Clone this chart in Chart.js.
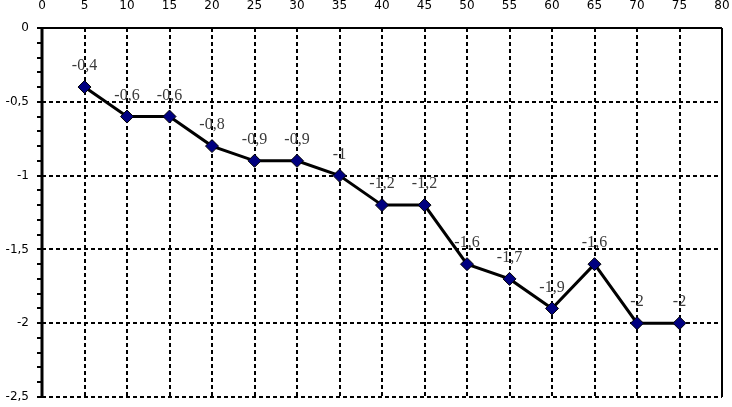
<!DOCTYPE html>
<html>
<head>
<meta charset="utf-8">
<script src="https://cdn.jsdelivr.net/npm/chart.js@4/dist/chart.umd.min.js"></script>
<style>
    html, body { margin: 0; padding: 0; background: #fff; }
    #wrap { width: 732px; height: 407px; }
</style>
</head>
<body>
<div id="wrap"><canvas id="chart"></canvas></div>
<script>
// Données
const xValues = [5, 10, 15, 20, 25, 30, 35, 40, 45, 50, 55, 60, 65, 70, 75];
const yValues = [-0.4, -0.6, -0.6, -0.8, -0.9, -0.9, -1, -1.2, -1.2, -1.6, -1.7, -1.9, -1.6, -2, -2];
const xTicks = [0, 5, 10, 15, 20, 25, 30, 35, 40, 45, 50, 55, 60, 65, 70, 75, 80];
const yMajorTicks = [0, -0.5, -1, -1.5, -2, -2.5];

function formatComma(v) {
    return String(v).replace('.', ',');
}

function isMajor(v) {
    return yMajorTicks.some(function(t) { return Math.abs(t - v) < 1e-6; });
}

// Fond blanc + cadre (gauche, haut, droite) + étiquettes de valeurs
const framePlugin = {
    id: 'frame',
    beforeDraw: function(chart) {
        const ctx = chart.ctx;
        ctx.save();
        ctx.fillStyle = '#fff';
        ctx.fillRect(0, 0, chart.width, chart.height);
        ctx.restore();
    },
    afterDraw: function(chart) {
        const ctx = chart.ctx;
        const area = chart.chartArea;
        ctx.save();
        ctx.strokeStyle = '#000';
        ctx.setLineDash([]);
        ctx.lineWidth = 2;
        ctx.beginPath();
        ctx.moveTo(area.left, area.top);
        ctx.lineTo(area.right, area.top);
        ctx.moveTo(area.right, area.top);
        ctx.lineTo(area.right, area.bottom);
        ctx.stroke();
        ctx.lineWidth = 3;
        ctx.beginPath();
        ctx.moveTo(area.left, area.top - 1);
        ctx.lineTo(area.left, area.bottom);
        ctx.stroke();

        const meta = chart.getDatasetMeta(0);
        ctx.font = '16px "Liberation Serif", "Times New Roman", serif';
        ctx.fillStyle = '#3a3a3a';
        ctx.textAlign = 'center';
        ctx.textBaseline = 'middle';
        meta.data.forEach(function(pt, i) {
            ctx.fillText(formatComma(yValues[i]), pt.x, pt.y - 21);
        });
        ctx.restore();
    }
};

const points = xValues.map(function(x, i) { return { x: x, y: yValues[i] }; });

new Chart(document.getElementById('chart'), {
    type: 'scatter',
    data: {
        datasets: [{
            data: points,
            showLine: true,
            borderColor: '#000',
            borderWidth: 3,
            pointStyle: 'rectRot',
            pointRadius: 6.5,
            pointHoverRadius: 6.5,
            pointBackgroundColor: '#000080',
            pointBorderColor: '#000',
            pointBorderWidth: 1
        }]
    },
    options: {
        responsive: true,
        maintainAspectRatio: false,
        animation: false,
        events: [],
        layout: { padding: { left: 0, right: 10, top: 0, bottom: 10 } },
        plugins: {
            legend: { display: false },
            tooltip: { enabled: false }
        },
        scales: {
            x: {
                type: 'linear',
                position: 'top',
                min: 0,
                max: 80,
                afterBuildTicks: function(scale) {
                    scale.ticks = xTicks.map(function(v) { return { value: v }; });
                },
                afterFit: function(scale) {
                    scale.height = 28;
                    scale.paddingLeft = 0;
                    scale.paddingRight = 0;
                },
                ticks: {
                    color: '#000',
                    padding: 15,
                    maxRotation: 0,
                    font: { family: '"DejaVu Sans", Verdana, sans-serif', size: 12 }
                },
                grid: {
                    color: '#000',
                    lineWidth: 2,
                    drawTicks: false
                },
                border: { display: false, dash: [4, 3] }
            },
            y: {
                type: 'linear',
                min: -2.5,
                max: 0,
                afterBuildTicks: function(scale) {
                    const t = [];
                    for (let i = 0; i <= 25; i++) {
                        t.push({ value: -i / 10 });
                    }
                    scale.ticks = t;
                },
                afterFit: function(scale) {
                    scale.width = 42;
                    scale.paddingTop = 0;
                    scale.paddingBottom = 0;
                },
                ticks: {
                    color: '#000',
                    padding: 8,
                    autoSkip: false,
                    font: { family: '"DejaVu Sans", Verdana, sans-serif', size: 12 },
                    callback: function(v) {
                        return isMajor(v) ? formatComma(Math.round(v * 10) / 10) : '';
                    }
                },
                grid: {
                    color: function(c) {
                        return c.tick && isMajor(c.tick.value) ? '#000' : 'rgba(0,0,0,0)';
                    },
                    lineWidth: 2,
                    drawTicks: true,
                    tickLength: 5,
                    tickColor: '#000',
                    tickWidth: 2,
                    tickBorderDash: []
                },
                border: { display: false, dash: [4, 3] }
            }
        }
    },
    plugins: [framePlugin]
});
</script>
</body>
</html>
